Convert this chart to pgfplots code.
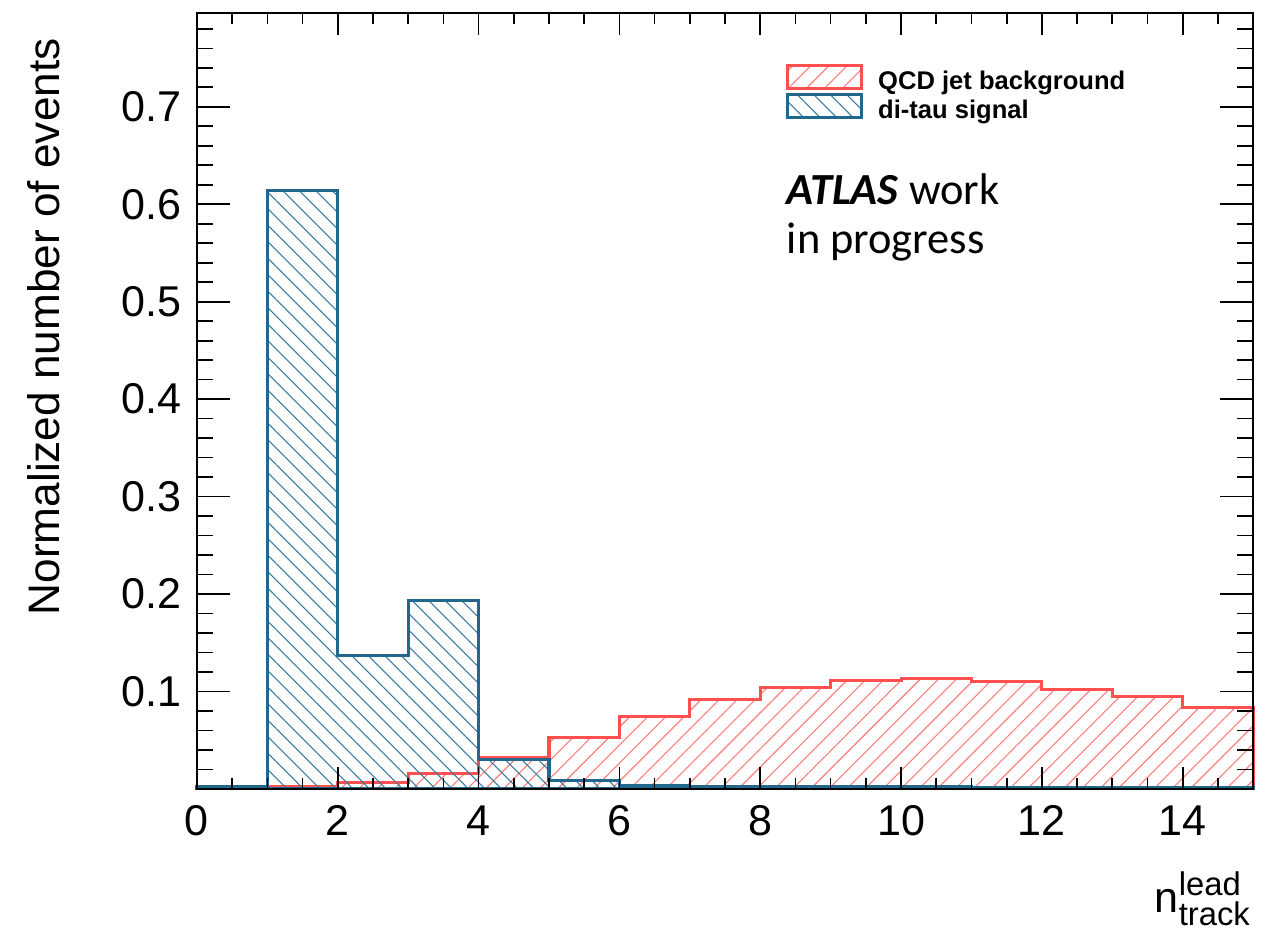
\documentclass[border=0pt]{standalone}
\usepackage{fontspec}
\setmainfont{Liberation Sans}
\newfontfamily\calibri{Carlito}
\usepackage{pgfplots}
\usepackage{pgfplotstable}
\pgfplotsset{compat=1.18}
\usetikzlibrary{patterns.meta}

\definecolor{bkgred}{RGB}{255,80,80}
\definecolor{bkghatch}{RGB}{255,125,125}
\definecolor{sigblue}{RGB}{33,104,140}
\definecolor{sighatch}{RGB}{55,122,158}

% hatched swatch for the legend
\pgfplotsset{hatch legend/.style={legend image code/.code={\draw[##1] (0pt,-2.4pt) rectangle (26.6pt,5.9pt);}}}

% normalised n_track^lead distributions, unit bins from 0 to 15
% (last bin repeated to close the step at x = 15)
\pgfplotstableread{
x   y
0   0.001
1   0.002
2   0.007
3   0.016
4   0.032
5   0.053
6   0.074
7   0.092
8   0.104
9   0.111
10  0.113
11  0.110
12  0.102
13  0.095
14  0.084
15  0.084
}\qcdtable

\pgfplotstableread{
x   y
0   0.002
1   0.614
2   0.137
3   0.193
4   0.030
5   0.009
6   0.003
7   0.002
8   0.002
9   0.002
10  0.002
11  0.001
12  0.001
13  0.001
14  0.001
15  0.001
}\ditautable

\begin{document}
\begin{tikzpicture}
\useasboundingbox (-70.9pt,-51.1pt) rectangle (388.8pt,284.0pt);
\begin{axis}[
  at={(0pt,0pt)}, anchor=south west,
  scale only axis, width=380.2pt, height=279.4pt,
  xmin=0, xmax=15, ymin=0, ymax=0.7965,
  clip=false,
  axis on top,
  axis line style={line width=0.8pt},
  tick style={line width=0.6pt, black},
  tick align=inside, tick pos=both,
  xtick={0,2,...,14},
  minor xtick={0.5,1,...,14.5},
  ytick={0.1,0.2,0.3,0.4,0.5,0.6,0.7},
  minor ytick={0.02,0.04,...,0.785},
  every major x tick/.append style={/pgfplots/major tick length=7.9pt},
  every minor x tick/.append style={/pgfplots/minor tick length=4pt},
  every major y tick/.append style={/pgfplots/major tick length=12pt},
  every minor y tick/.append style={/pgfplots/minor tick length=5.8pt},
  ticklabel style={font=\fontsize{15.5}{18}\selectfont},
  /pgf/number format/assume math mode=true,
  yticklabel style={/pgf/number format/.cd, fixed, fixed zerofill, precision=1, /tikz/.cd, xshift=-2pt},
  xticklabel style={/pgf/number format/.cd, int detect, /tikz/.cd, yshift=-2.5pt},
  legend style={at={(rel axis cs:0.558,0.934)}, anchor=north west,
    draw=none, fill=none, inner sep=0pt, outer sep=0pt,
    nodes={inner sep=0pt},
    row sep=0pt, column sep=5.4pt,
    font=\fontsize{9.2}{11}\selectfont\bfseries},
  legend cell align=left,
]
\addplot[const plot, draw=bkgred, line width=1.1pt,
  pattern={Lines[angle=45, distance=4.6pt, line width=0.4pt]}, pattern color=bkghatch,
  hatch legend]
  table[x=x, y=y] {\qcdtable} \closedcycle;
\addlegendentry{QCD jet background}

\addplot[const plot, draw=sigblue, line width=1.1pt,
  pattern={Lines[angle=-45, distance=4.2pt, line width=0.4pt]}, pattern color=sighatch,
  hatch legend]
  table[x=x, y=y] {\ditautable} \closedcycle;
\addlegendentry{di-tau signal}

\node[anchor=base west, inner sep=0pt, font=\calibri\fontsize{16}{19}\selectfont]
  at (rel axis cs:0.558,0.7526) {\textbf{\textit{ATLAS}} work};
\node[anchor=base west, inner sep=0pt, font=\calibri\fontsize{16}{19}\selectfont]
  at (rel axis cs:0.558,0.6894) {in progress};

\node[rotate=90, anchor=base east, inner sep=0pt, font=\fontsize{15.9}{19}\selectfont]
  at (axis cs:-1.945,0.7708) {Normalized number of events};

\node[anchor=base east, inner sep=0pt, font=\fontsize{15.5}{18}\selectfont]
  at (axis cs:14.961,-0.1263)
  {n\rlap{\raisebox{6pt}{\fontsize{11.8}{13}\selectfont lead}}\raisebox{-4.7pt}{\fontsize{11.8}{13}\selectfont track}};
\end{axis}
\end{tikzpicture}
\end{document}
